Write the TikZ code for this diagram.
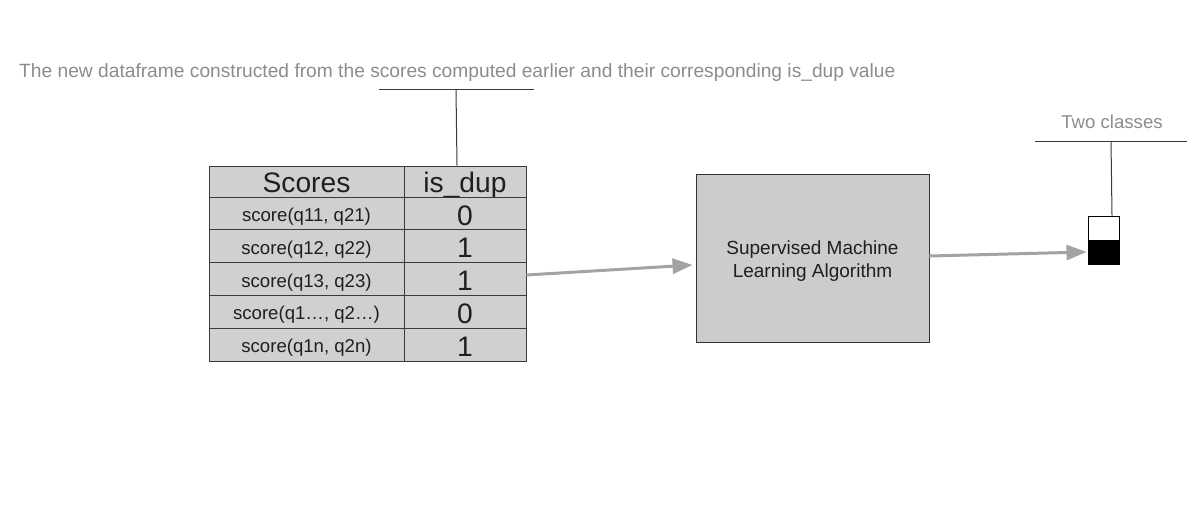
\documentclass[tikz,border=0pt]{standalone}
\usepackage{fontspec}
\setmainfont{Liberation Sans}
\usetikzlibrary{arrows.meta}
\definecolor{cellgray}{HTML}{D0D0D0}
\definecolor{boxgray}{HTML}{CCCCCC}
\definecolor{labelgray}{HTML}{8C8C8C}
\definecolor{arrgray}{HTML}{A3A3A3}
\definecolor{linegray}{HTML}{3A3A3A}
\tikzset{
  cell/.style={draw=linegray, line width=0.9pt, fill=cellgray, inner sep=0pt, minimum height=32.8pt, text=black!88, text depth=0pt},
  colA/.style={cell, minimum width=195pt, text height=16.3pt, font=\fontsize{18.6}{22}\selectfont},
  colB/.style={cell, minimum width=122pt, text height=23.2pt, font=\fontsize{28.2}{32}\selectfont},
  hdrA/.style={colA, minimum height=31pt, text height=21.2pt, font=\fontsize{28.2}{32}\selectfont},
  hdrB/.style={colB, minimum height=31pt, text height=21.2pt},
  algbox/.style={draw=black!80, line width=0.9pt, fill=boxgray, minimum width=233pt, minimum height=168pt},
  algtext/.style={align=center, font=\fontsize{19}{22.5}\selectfont, text=black!88, inner sep=0pt},
  clsw/.style={draw=black, line width=0.9pt, fill=white, minimum width=31pt, minimum height=24pt, inner sep=0pt},
  clsb/.style={draw=black, line width=0.9pt, fill=black, minimum width=31pt, minimum height=24pt, inner sep=0pt},
  note/.style={text=labelgray, font=\fontsize{18.6}{22}\selectfont, inner sep=0pt},
  arr/.style={draw=arrgray, line width=3pt, -{Triangle[length=20pt,width=15pt]}},
  lead/.style={draw=linegray, line width=1pt}
}
\begin{document}
\begin{tikzpicture}[x=1pt,y=-1pt]
\useasboundingbox (0,0) rectangle (1190,532);
% table
\node[hdrA] (h1) at (306.5,181.5) {Scores};
\node[hdrB] (h2) at (465,181.5) {is\_dup};
\node[colA] (r1a) at (306.5,213.4) {score(q11, q21)};
\node[colB] (r1b) at (465,213.4) {0};
\node[colA] (r2a) at (306.5,246.2) {score(q12, q22)};
\node[colB] (r2b) at (465,246.2) {1};
\node[colA] (r3a) at (306.5,279.0) {score(q13, q23)};
\node[colB] (r3b) at (465,279.0) {1};
\node[colA] (r4a) at (306.5,311.8) {score(q1\ldots, q2\ldots)};
\node[colB] (r4b) at (465,311.8) {0};
\node[colA] (r5a) at (306.5,344.6) {score(q1n, q2n)};
\node[colB] (r5b) at (465,344.6) {1};
% algorithm box
\node[algbox] (alg) at (812.5,258) {};
\node[algtext] (algt) at ([yshift=-3pt]alg.center) {Supervised Machine\\Learning Algorithm};
% class box
\node[clsw] (cw) at (1103.5,228) {};
\node[clsb] (cb) at (1103.5,252) {};
% labels
\node[note, anchor=west, font=\fontsize{19.2}{22}\selectfont] (topnote) at (19,73) {The new dataframe constructed from the scores computed earlier and their corresponding is\_dup value};
\node[note] (twonote) at (1112,122) {Two classes};
% leader lines
\coordinate (tl) at (379,90);
\coordinate (tr) at (534,90);
\coordinate (tm) at (456,90);
\draw[lead] (tl) -- (tr);
\draw[lead] (tm) -- (h2.north west -| 457,0);
\coordinate (cl) at (1035,141);
\coordinate (cr) at (1187,141);
\coordinate (cm) at (1111,141);
\draw[lead] (cl) -- (cr);
\draw[lead] (cm) -- (cw.north -| 1112,0);
% arrows
\draw[arr] ([yshift=4pt]r3b.east) -- ([yshift=-7pt,xshift=-3pt]alg.west);
\draw[arr] ([yshift=2pt]alg.east) -- ([xshift=-1pt]cb.west);
\end{tikzpicture}
\end{document}
